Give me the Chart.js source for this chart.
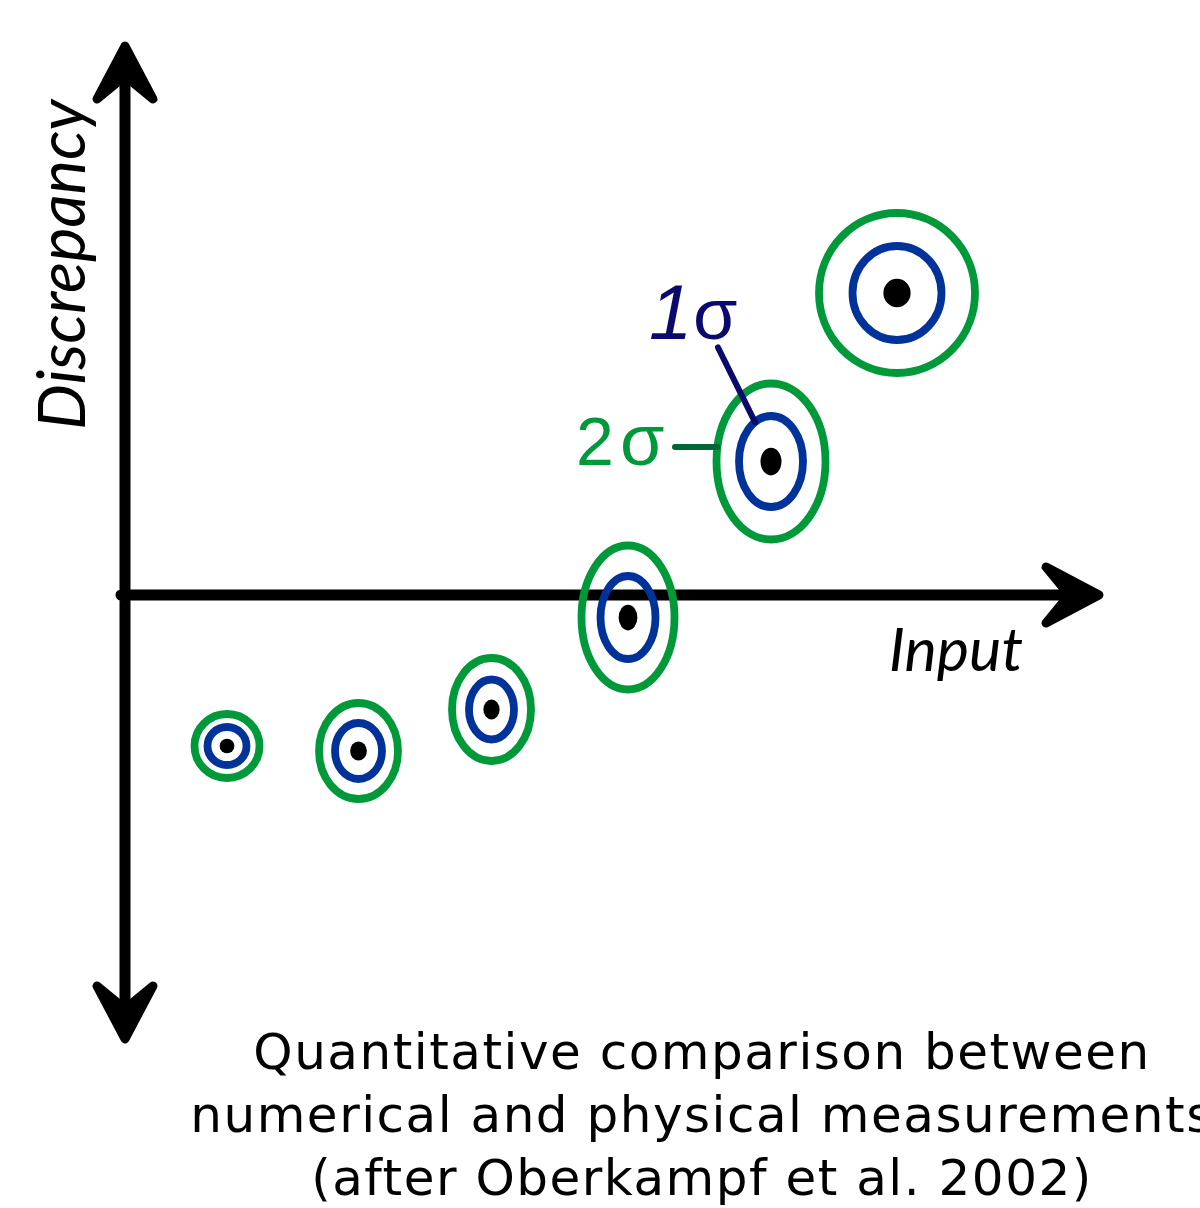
<!DOCTYPE html>
<html>
<head>
<meta charset="utf-8">
<title>Discrepancy vs Input</title>
<script src="https://cdn.jsdelivr.net/npm/chart.js@4.4.1/dist/chart.umd.min.js"></script>
<style>
    html, body { margin: 0; padding: 0; background: #fff; }
    #wrap { width: 1200px; height: 1208px; }
</style>
</head>
<body>
<div id="wrap"><canvas id="chart" width="1200" height="1208"></canvas></div>
<script>
// values, in axis units (origin where the two axes cross)
const inputs = [1.02, 2.335, 3.665, 5.03, 6.46, 7.72];
const discrepancy = [-1.51, -1.56, -1.145, -0.225, 1.335, 3.02];

// half width / half height of the 1 sigma ellipses
const sigma1X = [0.195, 0.235, 0.225, 0.275, 0.32, 0.445];
const sigma1Y = [0.19, 0.28, 0.30, 0.415, 0.455, 0.47];

// half width / half height of the 2 sigma ellipses
const sigma2X = [0.325, 0.395, 0.395, 0.465, 0.545, 0.78];
const sigma2Y = [0.32, 0.48, 0.515, 0.72, 0.78, 0.80];

// arrow tips of the axes
const xAxisEnd = 9.74;
const yAxisTop = 5.49;
const yAxisBottom = -4.44;

const xTitle = 'Input';
const yTitle = 'Discrepancy';
const captionLines = [
    'Quantitative comparison between',
    'numerical and physical measurements',
    '(after Oberkampf et al. 2002)'
];
const labeledPoint = 4;   // the ellipse carrying the 1σ / 2σ labels

const GREEN = '#00993a';
const BLUE = '#003399';
const NAVY = '#0a0a6e';
const DARK_GREEN = '#006633';

function arrowHead(ctx, x, y, angle) {
    ctx.save();
    ctx.translate(x, y);
    ctx.rotate(angle);
    ctx.beginPath();
    ctx.moveTo(0, 0);
    ctx.lineTo(-53, -28);
    ctx.lineTo(-30, 0);
    ctx.lineTo(-53, 28);
    ctx.closePath();
    ctx.fill();
    ctx.lineJoin = 'round';
    ctx.lineWidth = 9;
    ctx.stroke();
    ctx.restore();
}

function ring(ctx, cx, cy, rx, ry, color) {
    ctx.strokeStyle = color;
    ctx.beginPath();
    ctx.ellipse(cx, cy, rx, ry, 0, 0, Math.PI * 2);
    ctx.stroke();
}

const diagram = {
    id: 'diagram',
    afterDatasetsDraw(chart) {
        const ctx = chart.ctx;
        const sx = chart.scales.x;
        const sy = chart.scales.y;
        const x0 = sx.getPixelForValue(0);
        const y0 = sy.getPixelForValue(0);
        const xEnd = sx.getPixelForValue(xAxisEnd);
        const yTop = sy.getPixelForValue(yAxisTop);
        const yBot = sy.getPixelForValue(yAxisBottom);

        ctx.save();

        // axes
        ctx.strokeStyle = '#000';
        ctx.fillStyle = '#000';
        ctx.lineWidth = 11;
        ctx.lineCap = 'round';
        ctx.beginPath();
        ctx.moveTo(x0, yBot - 20);
        ctx.lineTo(x0, yTop + 20);
        ctx.moveTo(x0 - 4, y0);
        ctx.lineTo(xEnd - 20, y0);
        ctx.stroke();
        arrowHead(ctx, x0, yTop, -Math.PI / 2);
        arrowHead(ctx, x0, yBot, Math.PI / 2);
        arrowHead(ctx, xEnd, y0, 0);

        // ellipses + centre dots
        const geo = inputs.map((v, i) => {
            const cx = sx.getPixelForValue(v);
            const cy = sy.getPixelForValue(discrepancy[i]);
            return {
                cx: cx,
                cy: cy,
                r1x: sx.getPixelForValue(v + sigma1X[i]) - cx,
                r1y: cy - sy.getPixelForValue(discrepancy[i] + sigma1Y[i]),
                r2x: sx.getPixelForValue(v + sigma2X[i]) - cx,
                r2y: cy - sy.getPixelForValue(discrepancy[i] + sigma2Y[i])
            };
        });

        ctx.lineWidth = 7.8;
        geo.forEach(g => {
            ring(ctx, g.cx, g.cy, g.r2x, g.r2y, GREEN);
            ring(ctx, g.cx, g.cy, g.r1x, g.r1y, BLUE);
            ctx.fillStyle = '#000';
            ctx.beginPath();
            ctx.ellipse(g.cx, g.cy, 0.25 * g.r1x + 2.5, 0.25 * g.r1y + 2.5, 0, 0, Math.PI * 2);
            ctx.fill();
        });

        // 1σ / 2σ callouts
        const p = geo[labeledPoint];
        ctx.lineWidth = 6;
        ctx.lineCap = 'round';
        const t1 = -2 * Math.PI / 3;
        ctx.strokeStyle = NAVY;
        ctx.beginPath();
        ctx.moveTo(p.cx - 53, p.cy - 114);
        ctx.lineTo(p.cx + p.r1x * Math.cos(t1), p.cy + p.r1y * Math.sin(t1));
        ctx.stroke();

        const t2 = Math.PI * 1.06;
        ctx.strokeStyle = DARK_GREEN;
        ctx.beginPath();
        ctx.moveTo(p.cx - 96, p.cy + p.r2y * Math.sin(t2));
        ctx.lineTo(p.cx + p.r2x * Math.cos(t2), p.cy + p.r2y * Math.sin(t2));
        ctx.stroke();

        ctx.textAlign = 'left';
        ctx.textBaseline = 'alphabetic';
        ctx.fillStyle = NAVY;
        ctx.font = 'italic 78px "Liberation Sans"';
        ctx.fillText('1', p.cx - 122, p.cy - 123);
        ctx.font = '72px "Liberation Sans"';
        ctx.fillText('σ', p.cx - 78, p.cy - 123);

        ctx.fillStyle = GREEN;
        ctx.font = '68px "Liberation Sans"';
        ctx.fillText('2', p.cx - 195, p.cy + 3);
        ctx.font = '72px "Liberation Sans"';
        ctx.fillText('σ', p.cx - 151, p.cy + 3);

        // axis titles
        ctx.fillStyle = '#000';
        ctx.font = 'italic 61px Lato';
        ctx.textAlign = 'right';
        ctx.fillText(xTitle, xEnd - 76, y0 + 76);

        ctx.save();
        ctx.translate(x0 - 40, y0 - 165);
        ctx.rotate(-Math.PI / 2);
        ctx.textAlign = 'left';
        ctx.font = 'italic 65px Lato';
        ctx.fillText(yTitle, 0, 0);
        ctx.restore();

        ctx.restore();
    },
    afterDraw(chart) {
        // caption under the plot
        const ctx = chart.ctx;
        ctx.save();
        ctx.fillStyle = '#000';
        ctx.font = '50px "DejaVu Sans"';
        ctx.letterSpacing = '1.5px';
        ctx.textAlign = 'center';
        ctx.textBaseline = 'alphabetic';
        captionLines.forEach((line, i) => {
            ctx.fillText(line, 702, 1069 + i * 63);
        });
        ctx.restore();
    }
};

new Chart(document.getElementById('chart'), {
    type: 'scatter',
    data: {
        datasets: [{
            label: 'Discrepancy',
            data: inputs.map((v, i) => ({ x: v, y: discrepancy[i] })),
            pointRadius: 0,
            pointHoverRadius: 0
        }]
    },
    options: {
        responsive: false,
        devicePixelRatio: 1,
        animation: false,
        events: [],
        layout: { padding: 0 },
        plugins: {
            legend: { display: false },
            tooltip: { enabled: false },
            title: { display: false }
        },
        scales: {
            x: { type: 'linear', display: false, min: -1.25, max: 10.75 },
            y: { type: 'linear', display: false, min: -6.13, max: 5.95 }
        }
    },
    plugins: [diagram]
});
</script>
</body>
</html>
